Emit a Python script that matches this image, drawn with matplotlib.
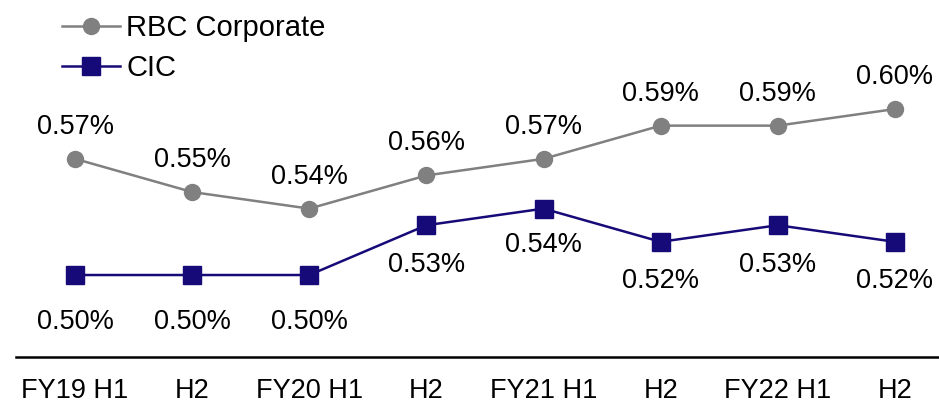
import matplotlib.pyplot as plt

plt.rcParams['font.family'] = ['Liberation Sans', 'DejaVu Sans']

categories = ['FY19 H1', 'H2', 'FY20 H1', 'H2', 'FY21 H1', 'H2', 'FY22 H1', 'H2']
rbc_corporate = [0.57, 0.55, 0.54, 0.56, 0.57, 0.59, 0.59, 0.60]
cic = [0.50, 0.50, 0.50, 0.53, 0.54, 0.52, 0.53, 0.52]

grey = '#808080'
navy = '#160a78'

fig = plt.figure(figsize=(9.39, 4.04), dpi=100)
ax = fig.add_axes([16 / 939, 1 - 357 / 404, 1 - 16 / 939, 357 / 404])

x = list(range(len(categories)))
ax.plot(x, rbc_corporate, color=grey, lw=1.8, marker='o', ms=11.5,
        label='RBC Corporate')
ax.plot(x, cic, color=navy, lw=1.8, marker='s', ms=13, label='CIC')

for i, v in enumerate(rbc_corporate):
    ax.annotate(f'{v:.2f}%', (i, v), xytext=(0, 23), textcoords='offset points',
                ha='center', va='center', fontsize=19.5)

cic_offsets = [-33.5, -33.5, -33.5, -28.5, -26, -28.5, -28.5, -28.5]
for i, v in enumerate(cic):
    ax.annotate(f'{v:.2f}%', (i, v), xytext=(0, cic_offsets[i]),
                textcoords='offset points', ha='center', va='center',
                fontsize=19.5)

ax.set_xlim(-0.504, 7.376)
ax.set_ylim(0.4506, 0.6657)
ax.set_xticks(x)
ax.set_xticklabels(categories, fontsize=19.5)
ax.tick_params(axis='x', length=0, pad=15)
ax.set_yticks([])
for s in ['left', 'right', 'top']:
    ax.spines[s].set_visible(False)
ax.spines['bottom'].set_linewidth(1.8)
ax.spines['bottom'].set_color('black')

ax.legend(loc='upper left', bbox_to_anchor=(62 / 939, 1 - 14 / 404),
          bbox_transform=fig.transFigure, frameon=False, fontsize=21,
          handlelength=2.0, handletextpad=0.2, labelspacing=0.42,
          borderpad=0, borderaxespad=0)

fig.savefig('out.png', dpi=100)
